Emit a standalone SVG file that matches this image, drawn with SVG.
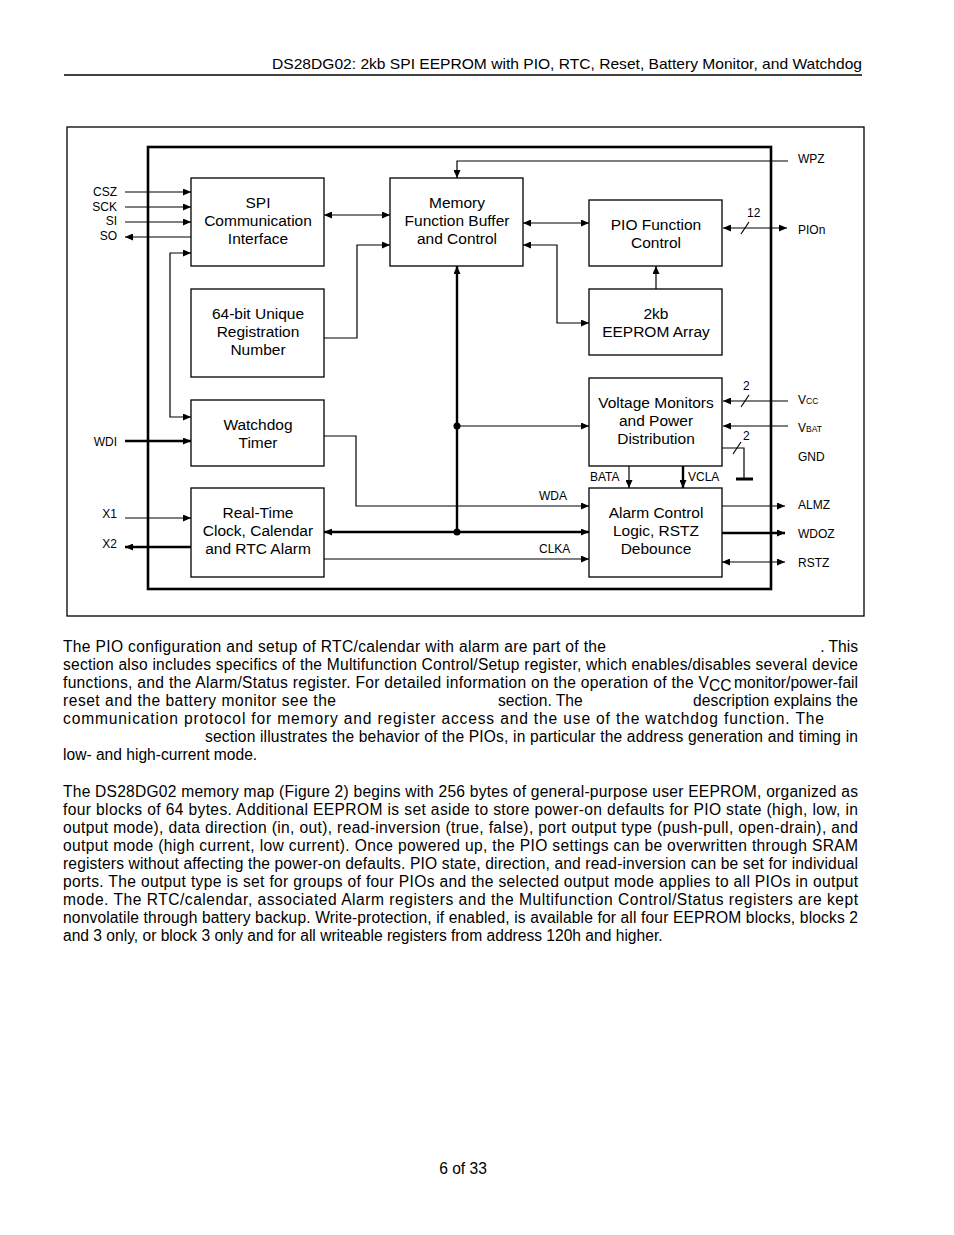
<svg xmlns="http://www.w3.org/2000/svg" width="954" height="1235" viewBox="0 0 954 1235">
<style>
.bg{fill:#fff}
.frame{fill:none;stroke:#000;stroke-width:1.3}
.chip{fill:none;stroke:#000;stroke-width:2.6}
.blk{fill:#fff;stroke:#000;stroke-width:1.3}
.bt{font-family:"Liberation Sans",Arial,sans-serif;font-size:15.5px;fill:#000;text-anchor:middle}
.pin{font-family:"Liberation Sans",Arial,sans-serif;font-size:12px;fill:#000}
.pr{text-anchor:end}
.sub{font-size:8.5px}
.w{fill:none;stroke:#000;stroke-width:1.2}
.wt{fill:none;stroke:#000;stroke-width:2.4}
.body{font-family:"Liberation Sans",Arial,sans-serif;font-size:15.6px;fill:#000}
.hdr{font-family:"Liberation Sans",Arial,sans-serif;font-size:14.3px;fill:#000}
</style>
<defs>
<marker id="ah" viewBox="0 0 8 7" refX="8" refY="3.5" markerWidth="8" markerHeight="7" markerUnits="userSpaceOnUse" orient="auto-start-reverse"><path d="M0,0L8,3.5L0,7z" fill="#000"/></marker>
</defs>
<rect class="bg" x="0" y="0" width="954" height="1235"/>
<g id="header">
<text class="hdr" x="272" y="69" textLength="590" lengthAdjust="spacingAndGlyphs">DS28DG02: 2kb SPI EEPROM with PIO, RTC, Reset, Battery Monitor, and Watchdog</text>
<line x1="64" y1="75" x2="862" y2="75" stroke="#000" stroke-width="1.3"/>
</g>
<rect class="frame" x="67" y="127" width="797" height="489"/>
<rect class="chip" x="148" y="147" width="623" height="442"/>
<g id="connectors">
<path class="w" d="M125,192H191" marker-end="url(#ah)"/>
<path class="w" d="M125,207H191" marker-end="url(#ah)"/>
<path class="w" d="M125,222H191" marker-end="url(#ah)"/>
<path class="w" d="M191,237H125" marker-end="url(#ah)"/>
<path class="w" d="M191,253H170V417H191" marker-start="url(#ah)" marker-end="url(#ah)"/>
<path class="wt" d="M125,441H191" marker-end="url(#ah)"/>
<path class="w" d="M125,518H191" marker-end="url(#ah)"/>
<path class="wt" d="M191,547H125" marker-end="url(#ah)"/>
<path class="w" d="M324,215H390" marker-start="url(#ah)" marker-end="url(#ah)"/>
<path class="w" d="M324,338H357V245H390" marker-end="url(#ah)"/>
<path class="w" d="M788,161H457V178" marker-end="url(#ah)"/>
<path class="w" d="M523,223H589" marker-start="url(#ah)" marker-end="url(#ah)"/>
<path class="w" d="M523,245H557V323H589" marker-start="url(#ah)" marker-end="url(#ah)"/>
<path class="w" d="M656,289V266" marker-end="url(#ah)"/>
<path class="wt" d="M457,532V266" marker-end="url(#ah)"/>
<path class="w" d="M457,426H589" marker-end="url(#ah)"/>
<path class="wt" d="M324,532H589" marker-start="url(#ah)" marker-end="url(#ah)"/>
<path class="w" d="M324,436H356V506H589" marker-end="url(#ah)"/>
<path class="w" d="M324,559H589" marker-end="url(#ah)"/>
<path class="w" d="M629,466V488" marker-end="url(#ah)"/>
<path class="wt" d="M683,466V488" marker-end="url(#ah)"/>
<path class="w" d="M723,228H787" marker-start="url(#ah)" marker-end="url(#ah)"/>
<path class="w" d="M741,234L749,222"/>
<path class="w" d="M788,401H723" marker-end="url(#ah)"/>
<path class="w" d="M741,407L749,395"/>
<path class="w" d="M788,426H723" marker-end="url(#ah)"/>
<path class="w" d="M722,448H744V479"/>
<path class="w" d="M733,454L741,442"/>
<path d="M736,479H753" stroke="#000" stroke-width="3"/>
<path class="w" d="M722,506H785" marker-end="url(#ah)"/>
<path class="wt" d="M722,533H785" marker-end="url(#ah)"/>
<path class="w" d="M722,562H785" marker-start="url(#ah)" marker-end="url(#ah)"/>
<circle cx="457" cy="426" r="3.5" fill="#000"/>
<circle cx="457" cy="532" r="3.5" fill="#000"/>
<text class="pin" x="747" y="217">12</text>
<text class="pin" x="743" y="390">2</text>
<text class="pin" x="743" y="440">2</text>
<text class="pin" x="539" y="500">WDA</text>
<text class="pin" x="539" y="553">CLKA</text>
<text class="pin" x="590" y="481">BATA</text>
<text class="pin" x="688" y="481">VCLA</text>
</g>
<g id="pins">
<text class="pin pr" x="117" y="196">CSZ</text>
<text class="pin pr" x="117" y="211">SCK</text>
<text class="pin pr" x="117" y="225">SI</text>
<text class="pin pr" x="117" y="240">SO</text>
<text class="pin pr" x="117" y="446">WDI</text>
<text class="pin pr" x="117" y="518">X1</text>
<text class="pin pr" x="117" y="548">X2</text>
<text class="pin" x="798" y="163">WPZ</text>
<text class="pin" x="798" y="234">PIOn</text>
<text class="pin" x="798" y="404">V<tspan class="sub">CC</tspan></text>
<text class="pin" x="798" y="432">V<tspan class="sub">BAT</tspan></text>
<text class="pin" x="798" y="461">GND</text>
<text class="pin" x="798" y="509">ALMZ</text>
<text class="pin" x="798" y="538">WDOZ</text>
<text class="pin" x="798" y="567">RSTZ</text>
</g>
<g id="spi"><rect class="blk" x="191" y="178" width="133" height="88"/>
<text class="bt" x="258" y="208">SPI</text><text class="bt" x="258" y="226">Communication</text><text class="bt" x="258" y="244">Interface</text></g>
<g id="memory"><rect class="blk" x="390" y="178" width="133" height="88"/>
<text class="bt" x="457" y="208">Memory</text><text class="bt" x="457" y="226">Function Buffer</text><text class="bt" x="457" y="244">and Control</text></g>
<g id="pio"><rect class="blk" x="589" y="200" width="133" height="66"/>
<text class="bt" x="656" y="230">PIO Function</text><text class="bt" x="656" y="248">Control</text></g>
<g id="regnum"><rect class="blk" x="191" y="289" width="133" height="88"/>
<text class="bt" x="258" y="319">64-bit Unique</text><text class="bt" x="258" y="337">Registration</text><text class="bt" x="258" y="355">Number</text></g>
<g id="eeprom"><rect class="blk" x="589" y="289" width="133" height="66"/>
<text class="bt" x="656" y="319">2kb</text><text class="bt" x="656" y="337">EEPROM Array</text></g>
<g id="voltage"><rect class="blk" x="589" y="378" width="133" height="88"/>
<text class="bt" x="656" y="408">Voltage Monitors</text><text class="bt" x="656" y="426">and Power</text><text class="bt" x="656" y="444">Distribution</text></g>
<g id="watchdog"><rect class="blk" x="191" y="400" width="133" height="66"/>
<text class="bt" x="258" y="430">Watchdog</text><text class="bt" x="258" y="448">Timer</text></g>
<g id="rtc"><rect class="blk" x="191" y="488" width="133" height="89"/>
<text class="bt" x="258" y="518">Real-Time</text><text class="bt" x="258" y="536">Clock, Calendar</text><text class="bt" x="258" y="554">and RTC Alarm</text></g>
<g id="alarm"><rect class="blk" x="589" y="488" width="133" height="89"/>
<text class="bt" x="656" y="518">Alarm Control</text><text class="bt" x="656" y="536">Logic, RSTZ</text><text class="bt" x="656" y="554">Debounce</text></g>
<g id="text">
<text class="body" x="63" y="652" textLength="543" lengthAdjust="spacing">The PIO configuration and setup of RTC/calendar with alarm are part of the</text>
<text class="body" x="858" y="652" text-anchor="end">. This</text>
<text class="body" x="63" y="670" textLength="795" lengthAdjust="spacing">section also includes specifics of the Multifunction Control/Setup register, which enables/disables several device</text>
<text class="body" x="63" y="688" textLength="646" lengthAdjust="spacing">functions, and the Alarm/Status register. For detailed information on the operation of the V</text>
<text class="body" x="709" y="691" font-size="10">CC</text>
<text class="body" x="858" y="688" text-anchor="end">monitor/power-fail</text>
<text class="body" x="63" y="706" textLength="273" lengthAdjust="spacing">reset and the battery monitor see the</text>
<text class="body" x="498" y="706">section. The</text>
<text class="body" x="693" y="706" textLength="165" lengthAdjust="spacing">description explains the</text>
<text class="body" x="63" y="724" textLength="761" lengthAdjust="spacing">communication protocol for memory and register access and the use of the watchdog function. The</text>
<text class="body" x="205" y="742" textLength="653" lengthAdjust="spacing">section illustrates the behavior of the PIOs, in particular the address generation and timing in</text>
<text class="body" x="63" y="760">low- and high-current mode.</text>
<text class="body" x="63" y="797" textLength="795" lengthAdjust="spacing">The DS28DG02 memory map (Figure 2) begins with 256 bytes of general-purpose user EEPROM, organized as</text>
<text class="body" x="63" y="815" textLength="795" lengthAdjust="spacing">four blocks of 64 bytes. Additional EEPROM is set aside to store power-on defaults for PIO state (high, low, in</text>
<text class="body" x="63" y="833" textLength="795" lengthAdjust="spacing">output mode), data direction (in, out), read-inversion (true, false), port output type (push-pull, open-drain), and</text>
<text class="body" x="63" y="851" textLength="795" lengthAdjust="spacing">output mode (high current, low current). Once powered up, the PIO settings can be overwritten through SRAM</text>
<text class="body" x="63" y="869" textLength="795" lengthAdjust="spacing">registers without affecting the power-on defaults. PIO state, direction, and read-inversion can be set for individual</text>
<text class="body" x="63" y="887" textLength="795" lengthAdjust="spacing">ports. The output type is set for groups of four PIOs and the selected output mode applies to all PIOs in output</text>
<text class="body" x="63" y="905" textLength="795" lengthAdjust="spacing">mode. The RTC/calendar, associated Alarm registers and the Multifunction Control/Status registers are kept</text>
<text class="body" x="63" y="923" textLength="795" lengthAdjust="spacing">nonvolatile through battery backup. Write-protection, if enabled, is available for all four EEPROM blocks, blocks 2</text>
<text class="body" x="63" y="941">and 3 only, or block 3 only and for all writeable registers from address 120h and higher.</text>
<text class="body" x="463" y="1174" text-anchor="middle">6 of 33</text>
</g>
</svg>
